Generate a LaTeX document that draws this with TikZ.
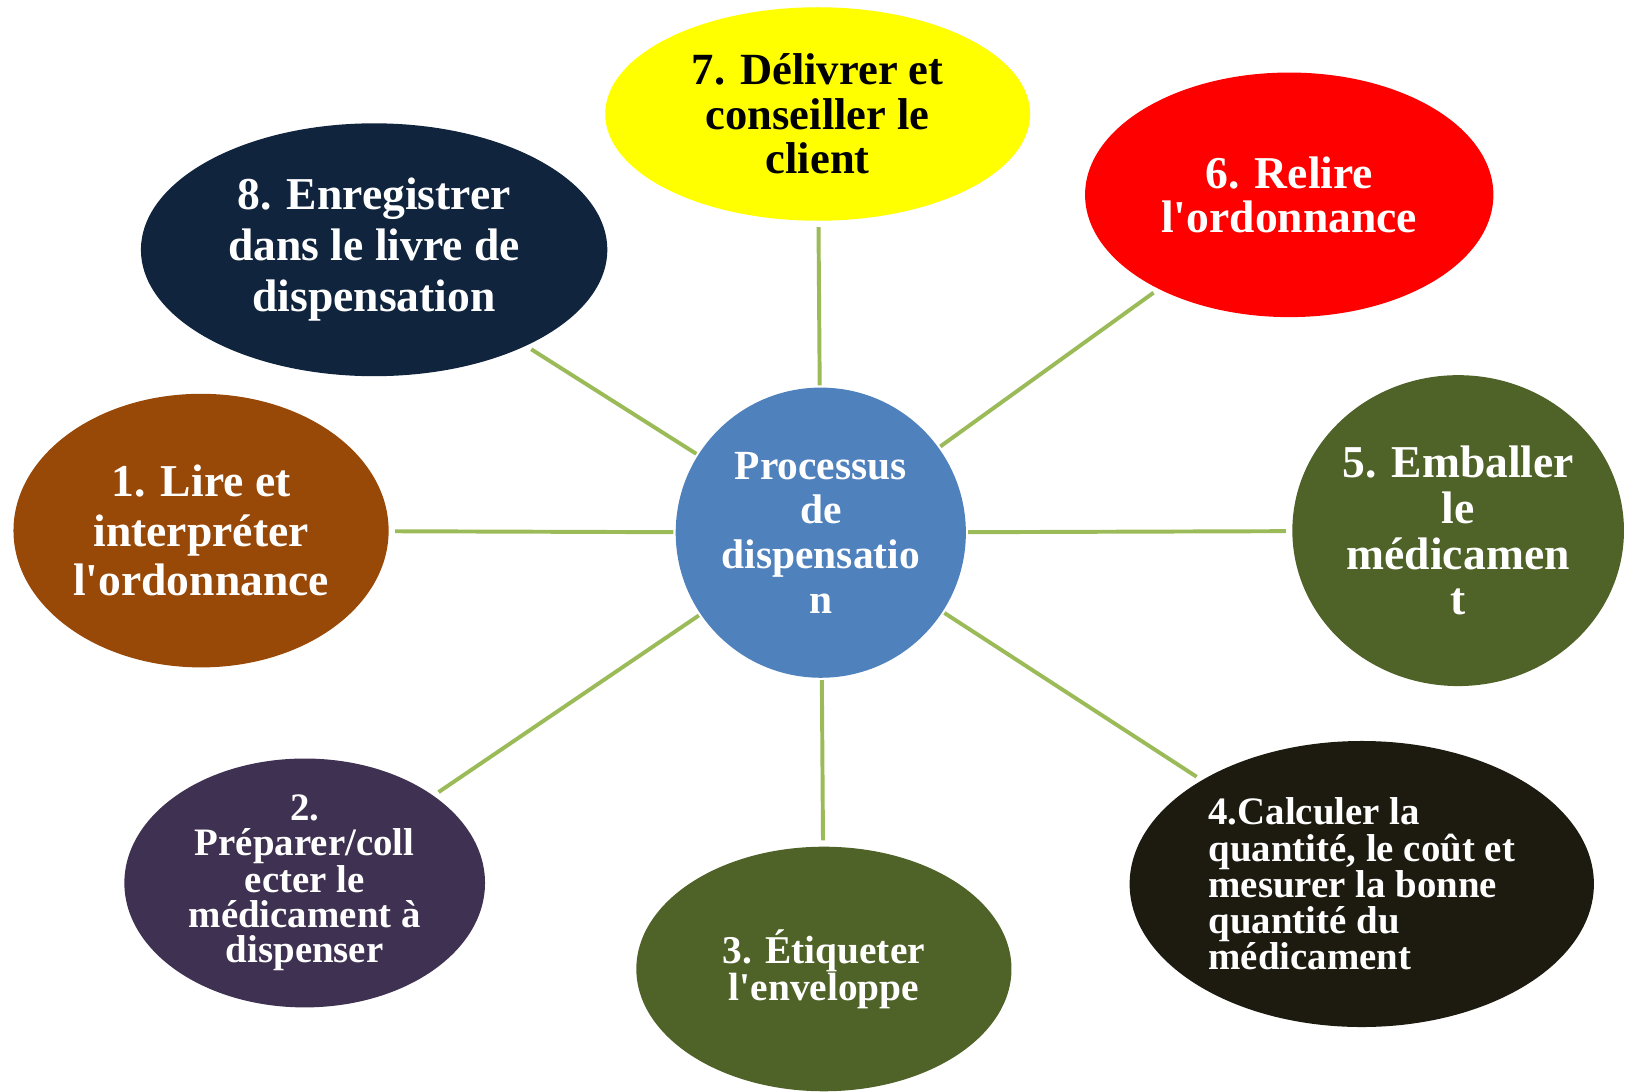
\documentclass[tikz,border=0pt]{standalone}
\usepackage{fontspec}
\setmainfont{Liberation Serif}
\usetikzlibrary{shapes.geometric}

\definecolor{jaune}{RGB}{255,255,0}
\definecolor{rouge}{RGB}{255,0,0}
\definecolor{marine}{RGB}{16,36,62}
\definecolor{brun}{RGB}{152,72,7}
\definecolor{olive}{RGB}{79,98,40}
\definecolor{violet}{RGB}{63,49,81}
\definecolor{noir}{RGB}{29,27,16}
\definecolor{bleu}{RGB}{79,129,189}
\definecolor{vert}{RGB}{155,187,89}

\newcommand{\apos}{\textquotesingle}

\tikzset{
	etape/.style={ellipse, inner sep=0pt, align=center, text=white, font=\bfseries},
	lien/.style={draw=vert, line width=3.8pt, shorten <=2pt, shorten >=6pt}
}

\begin{document}
\begin{tikzpicture}[x=1pt,y=1pt]
\useasboundingbox (0,0) rectangle (1568,1053);

\node[etape, fill=bleu, circle, minimum size=280pt, font=\bfseries\fontsize{40}{43}\selectfont] (c) at (792,539) {Processus\\de\\dispensatio\\n};

\node[etape, fill=jaune, text=black, minimum width=410pt, minimum height=206pt, font=\bfseries\fontsize{43}{43}\selectfont] (n7) at (789,943) {7. Délivrer et\\conseiller le\\client};
\node[etape, fill=rouge, minimum width=394pt, minimum height=236pt, font=\bfseries\fontsize{44}{43}\selectfont] (n6) at (1244,865) {6. Relire\\l\apos ordonnance};
\node[etape, fill=marine, minimum width=450pt, minimum height=244pt, font=\bfseries\fontsize{44}{49}\selectfont] (n8) at (361,812) {8. Enregistrer\\dans le livre de\\dispensation};
\node[etape, fill=brun, minimum width=362pt, minimum height=264pt, font=\bfseries\fontsize{44}{48}\selectfont] (n1) at (194,541) {1. Lire et\\interpréter\\l\apos ordonnance};
\node[etape, fill=olive, minimum width=320pt, minimum height=300pt, font=\bfseries\fontsize{44}{44}\selectfont] (n5) at (1407,541) {5. Emballer\\le\\médicamen\\t};
\node[etape, fill=violet, minimum width=348pt, minimum height=238pt, font=\bfseries\fontsize{37.5}{34}\selectfont] (n2) at (294,201) {2.\\Préparer/coll\\ecter le\\médicament à\\dispenser};
\node[etape, fill=olive, minimum width=362pt, minimum height=236pt, font=\bfseries\fontsize{38}{33}\selectfont] (n3) at (795,118) {3. Étiqueter\\l\apos enveloppe};
\node[etape, fill=noir, align=left, minimum width=448pt, minimum height=276pt, font=\bfseries\fontsize{37.5}{35}\selectfont] (n4) at (1314,200) {4.Calculer la\\quantité, le coût et\\mesurer la bonne\\quantité du\\médicament};

\foreach \n in {n1,n2,n3,n4,n5,n6,n7,n8} {
	\draw[lien] (c) -- (\n);
}

\end{tikzpicture}
\end{document}
